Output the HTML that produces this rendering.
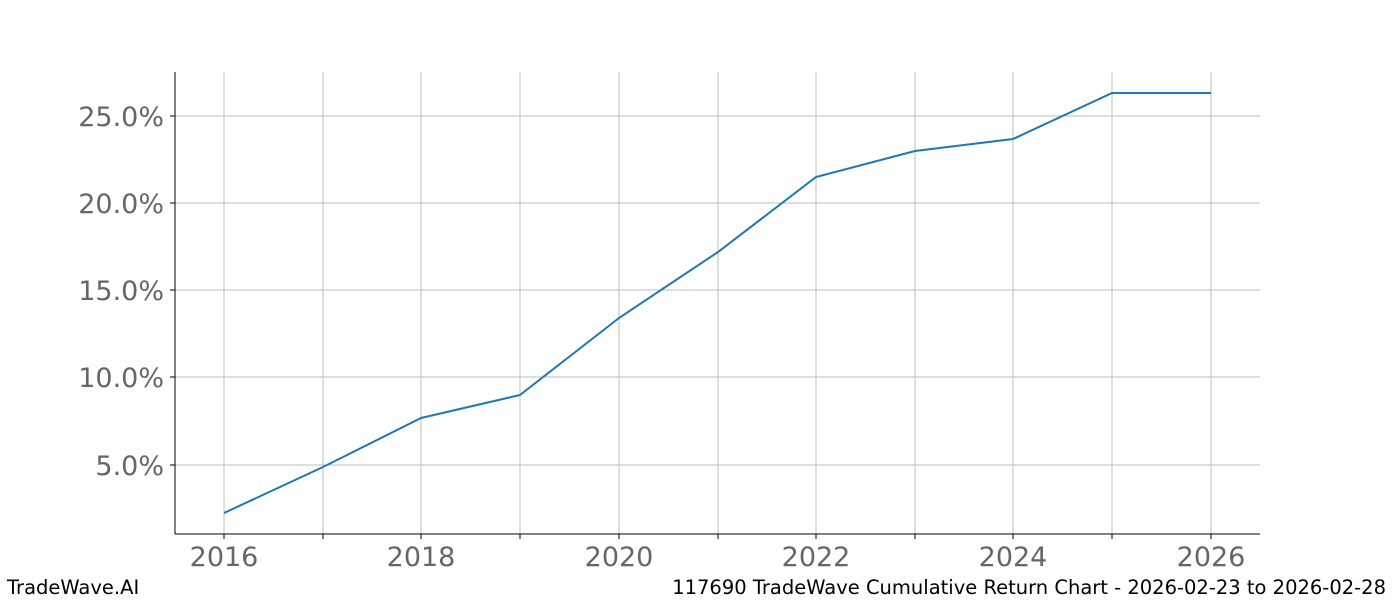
<!DOCTYPE html>
<html><head><meta charset="utf-8"><style>body{margin:0;background:#fff}</style></head><body>
<svg width="1400" height="600" xmlns="http://www.w3.org/2000/svg" font-family="DejaVu Sans, Liberation Sans, sans-serif">
<rect width="1400" height="600" fill="#fff"/>
<g stroke="#bdbdbd" stroke-width="1" shape-rendering="crispEdges">
<line x1="224" y1="72" x2="224" y2="534"/><line x1="323" y1="72" x2="323" y2="534"/><line x1="421" y1="72" x2="421" y2="534"/><line x1="520" y1="72" x2="520" y2="534"/><line x1="619" y1="72" x2="619" y2="534"/><line x1="718" y1="72" x2="718" y2="534"/><line x1="816" y1="72" x2="816" y2="534"/><line x1="915" y1="72" x2="915" y2="534"/><line x1="1013" y1="72" x2="1013" y2="534"/><line x1="1112" y1="72" x2="1112" y2="534"/><line x1="1211" y1="72" x2="1211" y2="534"/>
<line x1="175" y1="116" x2="1260" y2="116"/><line x1="175" y1="203" x2="1260" y2="203"/><line x1="175" y1="290" x2="1260" y2="290"/><line x1="175" y1="377" x2="1260" y2="377"/><line x1="175" y1="465" x2="1260" y2="465"/>
</g>
<g stroke="#000" stroke-width="1" shape-rendering="crispEdges">
<line x1="175" y1="72" x2="175" y2="534"/><line x1="175" y1="534" x2="1260" y2="534"/>
<line x1="224" y1="534" x2="224" y2="539"/><line x1="323" y1="534" x2="323" y2="539"/><line x1="421" y1="534" x2="421" y2="539"/><line x1="520" y1="534" x2="520" y2="539"/><line x1="619" y1="534" x2="619" y2="539"/><line x1="718" y1="534" x2="718" y2="539"/><line x1="816" y1="534" x2="816" y2="539"/><line x1="915" y1="534" x2="915" y2="539"/><line x1="1013" y1="534" x2="1013" y2="539"/><line x1="1112" y1="534" x2="1112" y2="539"/><line x1="1211" y1="534" x2="1211" y2="539"/>
<line x1="170" y1="116" x2="175" y2="116"/><line x1="170" y1="203" x2="175" y2="203"/><line x1="170" y1="290" x2="175" y2="290"/><line x1="170" y1="377" x2="175" y2="377"/><line x1="170" y1="465" x2="175" y2="465"/>
</g>
<polyline fill="none" stroke="#1f77b4" stroke-width="2" points="224,513 323,467 421,418 520,395 619,318 718,252 816,177 915,151 1013,139 1112,93 1211,93"/>
<g fill="#666" font-size="27" text-anchor="middle">
<text x="224" y="566">2016</text><text x="421" y="566">2018</text><text x="619" y="566">2020</text><text x="816" y="566">2022</text><text x="1013" y="566">2024</text><text x="1211" y="566">2026</text>
</g>
<g fill="#666" font-size="27" text-anchor="end">
<text x="164" y="126">25.0%</text><text x="164" y="213">20.0%</text><text x="164" y="300">15.0%</text><text x="164" y="387">10.0%</text><text x="164" y="475">5.0%</text>
</g>
<text x="7" y="594" font-size="19.5" fill="#000">TradeWave.AI</text>
<text x="1386" y="594" font-size="19.5" fill="#000" text-anchor="end">117690 TradeWave Cumulative Return Chart - 2026-02-23 to 2026-02-28</text>
</svg>
</body></html>
